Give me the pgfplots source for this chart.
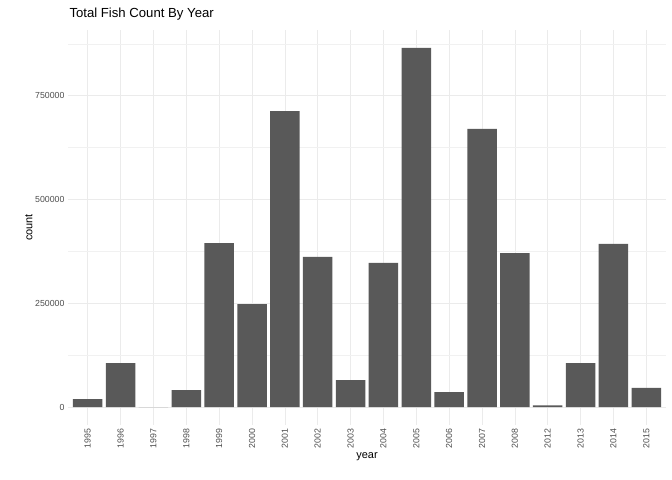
\documentclass[border=0pt]{standalone}
\usepackage{pgfplots}
\pgfplotsset{compat=1.18}
\usepackage{fontspec}
\setmainfont{Liberation Sans}
\definecolor{barc}{HTML}{595959}
\definecolor{tickc}{HTML}{4D4D4D}
\definecolor{gridc}{HTML}{EBEBEB}
\begin{document}
\begin{tikzpicture}
\useasboundingbox (0,0) rectangle (672bp,480bp);
\begin{axis}[
  at={(68bp,55bp)}, anchor=south west, scale only axis,
  width=598bp, height=395bp,
  xmin=0.4, xmax=18.6, ymin=-43250, ymax=908250,
  axis line style={draw=none}, tick style={draw=none},
  xtick={1,...,18},
  xticklabels={1995,1996,1997,1998,1999,2000,2001,2002,2003,2004,2005,2006,2007,2008,2012,2013,2014,2015},
  xticklabel style={rotate=90, anchor=east, font=\fontsize{8.8}{10}\selectfont, text=tickc},
  ytick={0,250000,500000,750000},
  minor ytick={125000,375000,625000,875000},
  yticklabel style={font=\fontsize{8.8}{10}\selectfont, text=tickc},
  scaled y ticks=false,
  /pgf/number format/.cd, fixed, 1000 sep={}, assume math mode=true, /pgfplots/.cd,
  grid=both,
  major grid style={draw=gridc, line width=0.7pt},
  minor grid style={draw=gridc!70, line width=0.4pt},
  xlabel={year}, ylabel={count},
  label style={font=\fontsize{11}{13}\selectfont},
  xlabel style={yshift=2pt}, ylabel style={yshift=-4pt},
  title={Total Fish Count By Year},
  title style={font=\fontsize{13.2}{15}\selectfont, at={(0,1)}, anchor=south west, xshift=-2bp, yshift=0pt},
]
\addplot[ybar, bar width=29.5bp, fill=barc, draw=none] coordinates {
(1,19000) (2,106000) (3,0) (4,41000) (5,395000) (6,248000) (7,713000) (8,362000) (9,65000)
(10,347000) (11,865000) (12,36000) (13,670000) (14,371000) (15,4000) (16,106000) (17,393000) (18,46000)};
\end{axis}
\end{tikzpicture}
\end{document}
